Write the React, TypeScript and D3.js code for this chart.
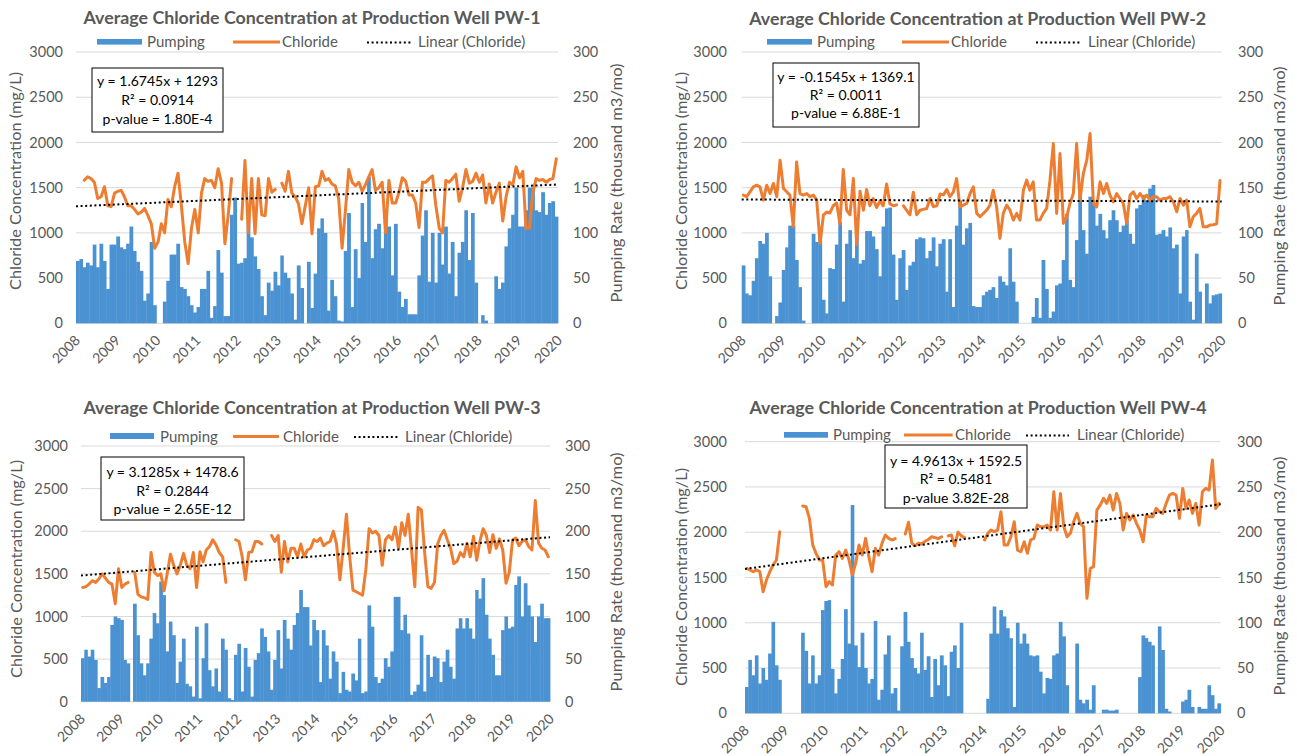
import React from 'react';
import * as d3 from 'd3';

const YEARS = ['2008','2009','2010','2011','2012','2013','2014','2015','2016','2017','2018','2019','2020'];
const LEFT_TICKS = [0, 500, 1000, 1500, 2000, 2500, 3000];
const RIGHT_TICKS = [0, 50, 100, 150, 200, 250, 300];
const MONTHS = d3.timeMonths(new Date(2008, 0, 1), new Date(2020, 0, 1));

const PW1_PUMPING = [
  69,71,62,67,64,87,62,88,69,38,87,87,
  96,84,82,88,107,80,68,58,25,33,90,20,
  0,0,24,47,76,76,88,40,38,30,20,12,
  18,38,38,58,6,19,81,56,8,8,120,139,
  66,67,72,116,95,74,60,30,9,45,36,57,
  42,75,56,50,33,4,64,39,0,68,17,55,
  105,116,100,14,48,30,3,2,80,122,18,82,
  50,133,90,162,72,104,110,83,118,107,53,110,
  35,18,27,10,10,10,53,97,125,46,100,45,
  100,65,107,55,90,30,78,90,125,70,122,45,
  0,9,3,0,0,52,38,45,85,105,120,150,
  107,107,125,150,150,125,123,145,120,133,135,118,
];
const PW1_CHLORIDE = [
  null,null,1583,1620,1600,1560,1380,1400,1510,1300,1290,1440,
  1460,1470,1400,1300,1300,1260,1210,1230,1270,1190,1100,830,
  900,1100,1000,1370,1290,1510,1660,1300,900,660,1050,1260,
  1000,1440,1600,1570,1580,1500,1710,1550,880,1200,1600,null,
  null,1150,1800,1000,1600,990,1600,1200,1190,1600,1450,1480,
  null,1550,1460,1680,1440,1400,1320,1100,1300,1500,990,1510,
  1520,1680,1580,1600,1540,1520,1380,830,1250,1700,1560,1520,
  1560,1460,1530,1620,1700,1470,1500,1560,1000,1580,1330,1330,
  1450,1610,1570,1420,1420,1330,1060,1560,1560,1600,1630,1300,
  1050,1000,1580,1560,1600,1650,1350,1500,1700,1550,1570,1660,
  1560,1640,1330,1540,1330,1450,1550,1130,1400,1560,1530,1730,
  1610,1680,1050,1050,1440,1600,1580,1590,1560,1590,1600,1820,
];

const PW2_PUMPING = [
  64,33,31,47,72,91,88,100,52,0,8,23,
  59,84,108,108,70,40,3,0,0,99,90,100,
  26,11,61,60,87,112,24,88,103,72,100,66,
  70,102,102,96,82,52,107,127,128,76,26,72,
  81,37,64,68,93,95,94,72,80,95,63,88,
  93,35,93,18,108,136,87,105,111,19,18,18,
  31,35,37,40,28,52,46,42,83,46,24,0,
  0,0,0,7,28,6,70,38,6,13,42,44,
  70,121,48,40,92,143,103,77,140,136,108,121,
  103,94,114,125,114,101,108,114,99,88,127,131,
  142,136,149,153,98,99,103,96,106,83,87,33,
  96,103,24,4,77,35,0,44,22,31,32,33,
];
const PW2_CHLORIDE = [
  1417,1400,1454,1509,1527,1509,1362,1527,1435,1546,1400,1803,
  1490,1454,1417,1067,1785,1435,1417,1435,1400,1417,1362,883,
  1200,1230,1220,1300,1330,1100,1700,1250,1200,1600,870,1460,
  1250,1480,1300,1380,1280,1350,1300,1540,1320,1300,1310,null,
  1300,1250,1200,1450,1200,1250,1260,1270,1380,1290,1300,1430,
  1420,1480,1400,1450,1600,1288,1306,1325,1435,1509,1215,1178,
  1215,1251,1306,1472,1288,939,1215,1306,1251,1141,1215,1141,
  1472,1583,1472,1564,1141,1141,1215,1270,1583,1987,1215,1877,
  1104,1178,1325,1435,1987,1362,1656,1803,2098,1325,1288,1564,
  1435,1546,1417,1343,1435,1380,1325,1104,1417,1454,1380,1435,
  1380,1417,1362,1400,1400,1362,1380,1380,1400,1343,1233,1380,
  1306,1362,1067,1178,1215,1270,1067,1067,1086,1090,1100,1580,
];

const PW3_PUMPING = [
  51,61,53,61,49,16,29,22,29,90,100,98,
  96,49,45,0,115,78,45,31,45,74,104,92,
  141,125,59,94,78,22,47,74,21,18,6,88,
  4,51,92,37,18,39,12,74,61,4,2,55,
  68,12,63,41,6,49,57,86,76,59,14,49,
  84,39,96,74,61,90,104,131,111,111,66,96,
  84,23,84,66,27,59,47,10,35,14,12,33,
  25,74,10,12,113,88,29,22,27,51,41,59,
  123,123,84,102,80,8,12,20,78,12,55,29,
  53,51,23,47,61,41,27,86,98,86,98,86,
  74,131,121,145,102,74,55,31,31,84,100,86,
  88,137,147,100,139,113,100,70,100,115,98,98,
];
const PW3_CHLORIDE = [
  1340,1350,1380,1420,1400,1440,1500,1450,1400,1380,1150,1560,
  1340,1380,1400,null,1520,1260,1230,1220,1200,1750,1520,1480,
  1500,1300,1500,1730,1600,1500,1600,1740,1600,1560,1750,1340,
  1760,1640,1780,1820,1900,1840,1750,1700,1400,null,null,1900,
  1880,1700,1430,1750,1760,1880,1880,1850,null,null,1950,1880,
  1950,1520,1880,1640,1800,1800,1700,1850,1700,1780,1800,1900,
  1880,1920,1830,1860,1880,2000,1850,1430,1800,2200,1700,1310,
  1290,1270,1250,1550,2030,1980,2000,1950,1600,1900,1950,1900,
  2050,1800,2100,1950,2200,1780,1350,2280,2250,1750,1350,1330,
  1400,1850,1950,2010,1900,1800,1620,1650,1750,1700,1860,1700,
  1940,1660,1880,2030,1950,1750,1960,1800,1910,1780,1390,1520,
  1900,1920,1830,1880,1900,1820,1780,2360,1860,1800,1780,1700,
];

const PW4_PUMPING = [
  29,59,42,64,33,50,37,66,101,53,37,0,
  0,0,0,0,0,89,69,33,64,33,42,114,
  124,125,49,22,38,60,115,77,230,75,51,89,
  50,33,38,102,15,26,65,86,22,28,3,74,
  112,79,61,50,44,89,48,63,18,60,31,64,
  53,19,68,75,50,100,0,0,0,0,0,0,
  0,16,88,118,88,114,107,94,83,7,100,77,
  88,77,64,63,64,46,22,39,38,64,66,101,
  85,31,0,0,77,15,11,15,4,31,0,0,
  4,4,3,3,4,0,0,0,0,0,0,40,
  86,83,79,75,0,96,70,5,2,0,0,0,
  13,15,26,7,0,7,5,5,31,20,5,11,
];
const PW4_CHLORIDE = [
  1600,1583,1564,1583,1564,1343,1472,1564,1638,1693,2006,null,
  null,null,null,null,null,2289,2282,2153,1859,1767,1693,1693,
  1399,1454,1417,1748,1785,1711,1803,1693,1527,1656,1859,1748,
  1932,1730,1564,1822,1748,1877,1969,1932,1914,1930,null,null,
  1980,2110,1880,1850,1880,1870,1900,1920,1950,1940,1930,1950,
  null,1960,1970,1850,2000,1960,1940,null,null,null,null,null,
  1914,1987,2024,2006,2024,2227,1859,1859,1950,2116,1803,1785,
  1895,1767,1914,1932,2080,2061,2061,2080,2024,2447,2024,2429,
  2061,1950,1987,2116,2208,2098,2061,1270,1600,1620,2245,2300,
  2374,2319,2410,2245,2429,2319,2024,2208,2135,2190,2098,2024,
  1895,2190,2171,2171,2263,2227,2208,2319,2410,2429,2410,2153,
  2484,2263,2356,2208,2319,2080,2447,2484,2466,2797,2263,2319,
];

const TITLES = [
  'Average Chloride Concentration at Production Well PW-1',
  'Average Chloride Concentration at Production Well PW-2',
  'Average Chloride Concentration at Production Well PW-3',
  'Average Chloride Concentration at Production Well PW-4',
];
const TREND_SLOPES = [1.6745, -0.1545, 3.1285, 4.9613];
const TREND_INTERCEPTS = [1293, 1369.1, 1478.6, 1592.5];
const STATS = [
  ['y = 1.6745x + 1293', 'R² = 0.0914', 'p-value = 1.80E-4'],
  ['y = -0.1545x + 1369.1', 'R² = 0.0011', 'p-value = 6.88E-1'],
  ['y = 3.1285x + 1478.6', 'R² = 0.2844', 'p-value = 2.65E-12'],
  ['y = 4.9613x + 1592.5', 'R² = 0.5481', 'p-value 3.82E-28'],
];
const LEGEND_LABELS = ['Pumping', 'Chloride', 'Linear (Chloride)'];
const LEFT_TITLE = 'Chloride Concentration (mg/L)';
const RIGHT_TITLE = 'Pumping Rate (thousand m3/mo)';

const LAYOUTS = [
  { x0: 76, x1: 558, yTop: 52, yBot: 323.3, tcx: 312, ty: 24,
    lg: { rx: 97, ry: 39, rw: 45, rh: 5.6, pt: 147, ox0: 233, ox1: 280, oy: 42, ct: 282, dx0: 367, dx1: 411, dy: 42.5, lt: 418, by: 46.5 },
    lx: 63, rx: 573, ltx: 16, lty: 181, rtx: 617, rty: 183,
    box: [92, 68, 131, 64], bcx: 157.5, bys: [86, 105, 124] },
  { x0: 741.7, x1: 1221.7, yTop: 52, yBot: 323.3, tcx: 977.7, ty: 24.5,
    lg: { rx: 767, ry: 39, rw: 45, rh: 5.6, pt: 817, ox0: 902, ox1: 949, oy: 42, ct: 951, dx0: 1036, dx1: 1080, dy: 42.5, lt: 1088, by: 46.5 },
    lx: 727, rx: 1238, ltx: 682, lty: 181, rtx: 1280, rty: 186,
    box: [773, 63, 146, 64], bcx: 846, bys: [82, 100, 118] },
  { x0: 81, x1: 550, yTop: 446, yBot: 701.7, tcx: 312, ty: 414,
    lg: { rx: 110, ry: 433, rw: 44, rh: 6, pt: 160, ox0: 233, ox1: 279, oy: 436.5, ct: 283, dx0: 354, dx1: 398, dy: 437, lt: 405, by: 441.5 },
    lx: 68, rx: 565, ltx: 17, lty: 569, rtx: 617, rty: 572,
    box: [101, 457, 143, 63], bcx: 172.5, bys: [477, 496, 514] },
  { x0: 745, x1: 1220.7, yTop: 441.7, yBot: 713.3, tcx: 978, ty: 414,
    lg: { rx: 784, ry: 432, rw: 44, rh: 5.7, pt: 833, ox0: 904, ox1: 952.7, oy: 435, ct: 955, dx0: 1026, dx1: 1069, dy: 435.5, lt: 1077, by: 439.5 },
    lx: 727, rx: 1237, ltx: 682, lty: 577, rtx: 1280, rty: 576,
    box: [885, 445, 142, 63], bcx: 956, bys: [466, 484, 503] },
];

const FONT = "Lato, 'Open Sans', sans-serif";
const GRAY = '#595959';
const BLUE = '#4a92d2';
const ORANGE = '#ed7d31';
const C45 = Math.SQRT1_2;

function Panel({ k, pumping, chloride }: any) {
  const L = LAYOUTS[k];
  const x = d3.scaleTime().domain([new Date(2008, 0, 1), new Date(2020, 0, 1)]).range([L.x0, L.x1]);
  const yL = d3.scaleLinear().domain([0, 3000]).range([L.yBot, L.yTop]);
  const yR = d3.scaleLinear().domain([0, 300]).range([L.yBot, L.yTop]);
  const mid = (d: Date) => (x(d) + x(d3.timeMonth.offset(d, 1))) / 2;
  const line = d3.line<any>()
    .defined((v: any) => v != null)
    .x((_: any, i: number) => mid(MONTHS[i]))
    .y((v: any) => yL(v));
  const idx = d3.scaleLinear().domain([0.5, MONTHS.length + 0.5]).range([L.x0, L.x1]);
  const trendVal = (t: number) => TREND_INTERCEPTS[k] + TREND_SLOPES[k] * t;
  const yearDates = YEARS.map((y) => new Date(+y, 0, 1));
  const lg = L.lg;
  return (
    <g fontFamily={FONT}>
      <text x={L.tcx} y={L.ty} textAnchor="middle" fontWeight="bold" fontSize={16.5} fill={GRAY}
        textLength={457} lengthAdjust="spacingAndGlyphs">{TITLES[k]}</text>
      {LEFT_TICKS.map((t) => (
        <line key={'g' + t} x1={L.x0} x2={L.x1} y1={yL(t)} y2={yL(t)} stroke="#d9d9d9" strokeWidth={1} />
      ))}
      {LEFT_TICKS.map((t) => (
        <text key={'l' + t} x={L.lx} y={yL(t)} dy="0.35em" textAnchor="end" fontSize={14.5} fill={GRAY}>{t}</text>
      ))}
      {RIGHT_TICKS.map((t) => (
        <text key={'r' + t} x={L.rx} y={yR(t)} dy="0.35em" textAnchor="start" fontSize={14.5} fill={GRAY}>{t}</text>
      ))}
      <text transform={`translate(${L.ltx},${L.lty}) rotate(-90)`} textAnchor="middle" dy="0.35em" fontSize={15} fill={GRAY}
        textLength={218} lengthAdjust="spacingAndGlyphs">{LEFT_TITLE}</text>
      <text transform={`translate(${L.rtx},${L.rty}) rotate(-90)`} textAnchor="middle" dy="0.35em" fontSize={15} fill={GRAY}
        textLength={239} lengthAdjust="spacingAndGlyphs">{RIGHT_TITLE}</text>
      {yearDates.map((d, i) => {
        const ax = x(d) + 5;
        const ay = L.yBot + 18;
        return (
          <text key={'x' + i} transform={`matrix(${C45},${-C45},${C45},${C45},${ax},${ay})`}
            textAnchor="end" fontSize={14} fill={GRAY}>{YEARS[i]}</text>
        );
      })}
      {pumping.map((v: number, i: number) => {
        if (!v) return null;
        const xa = x(MONTHS[i]);
        const xb = x(d3.timeMonth.offset(MONTHS[i], 1));
        return <rect key={'b' + i} x={xa} y={yR(v)} width={xb - xa + 0.4} height={L.yBot - yR(v)} fill={BLUE} />;
      })}
      <path d={line(chloride) || ''} fill="none" stroke={ORANGE} strokeWidth={3} strokeLinejoin="round" strokeLinecap="round" />
      <line x1={idx(0.5)} x2={idx(MONTHS.length + 0.5)} y1={yL(trendVal(0.5))} y2={yL(trendVal(MONTHS.length + 0.5))}
        stroke="#000" strokeWidth={2} strokeDasharray="2,2.6" />
      <rect x={lg.rx} y={lg.ry} width={lg.rw} height={lg.rh} fill={BLUE} />
      <text x={lg.pt} y={lg.by} fontSize={15} fill={GRAY}>{LEGEND_LABELS[0]}</text>
      <line x1={lg.ox0} x2={lg.ox1} y1={lg.oy} y2={lg.oy} stroke={ORANGE} strokeWidth={3} />
      <text x={lg.ct} y={lg.by} fontSize={15} fill={GRAY}>{LEGEND_LABELS[1]}</text>
      <line x1={lg.dx0} x2={lg.dx1} y1={lg.dy} y2={lg.dy} stroke="#000" strokeWidth={2} strokeDasharray="2,2.6" />
      <text x={lg.lt} y={lg.by} fontSize={15} fill={GRAY}>{LEGEND_LABELS[2]}</text>
      <rect x={L.box[0]} y={L.box[1]} width={L.box[2]} height={L.box[3]} fill="#fff" stroke="#000" strokeWidth={1} />
      {STATS[k].map((s, i) => (
        <text key={'s' + i} x={L.bcx} y={L.bys[i]} textAnchor="middle" fontSize={14} fill="#000">{s}</text>
      ))}
    </g>
  );
}

export default function App() {
  return (
    <svg width={1297} height={756} style={{ position: 'absolute', left: 0, top: 0, background: '#fff' }}>
      <rect x={0} y={0} width={1297} height={756} fill="#fff" />
      <Panel k={0} pumping={PW1_PUMPING} chloride={PW1_CHLORIDE} />
      <Panel k={1} pumping={PW2_PUMPING} chloride={PW2_CHLORIDE} />
      <Panel k={2} pumping={PW3_PUMPING} chloride={PW3_CHLORIDE} />
      <Panel k={3} pumping={PW4_PUMPING} chloride={PW4_CHLORIDE} />
    </svg>
  );
}
